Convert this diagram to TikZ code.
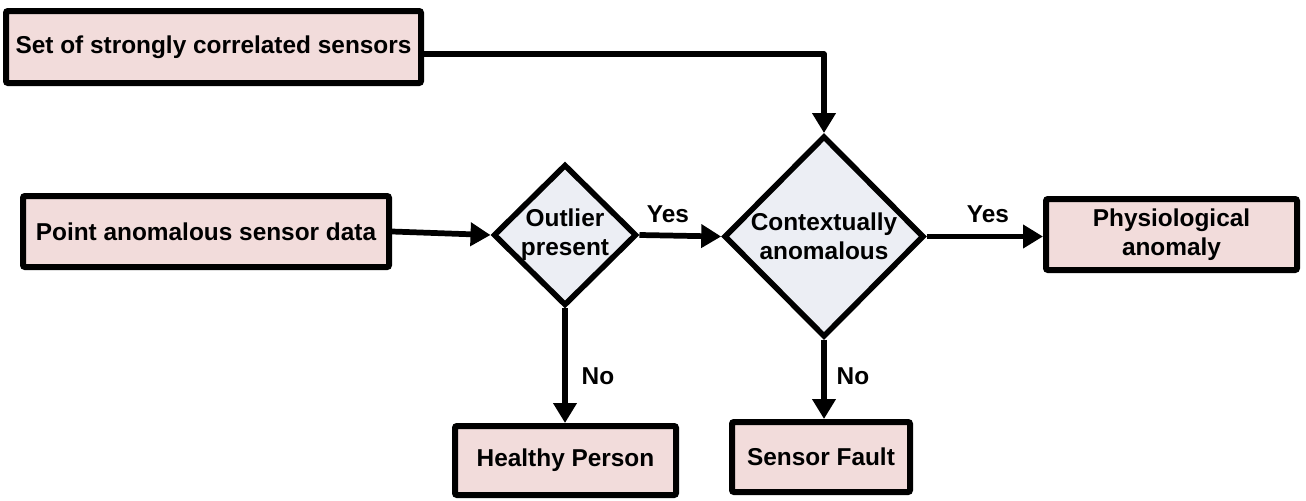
\documentclass[tikz,border=0pt]{standalone}
\usepackage{fontspec}
\setmainfont{Liberation Sans}
\usetikzlibrary{shapes.geometric,arrows.meta}
\definecolor{boxfill}{HTML}{F2DCDB}
\definecolor{decfill}{HTML}{ECEEF4}
\begin{document}
\begin{tikzpicture}[x=0.75pt,y=-0.75pt,
  every node/.style={font=\fontsize{18.3}{22}\selectfont\bfseries},
  stepbox/.style={draw=black, fill=boxfill, line width=4.5pt, rounded corners=1.5pt,
    align=center, inner sep=0pt},
  decision/.style={diamond, draw=black, fill=decfill, line width=4.2pt, inner sep=0pt},
  flow/.style={line width=4.3pt, line join=round, -{Triangle[length=15pt,width=17pt]}},
  tag/.style={inner sep=0pt}
]
\useasboundingbox (0,0) rectangle (1306,500);

% process boxes
\node[stepbox, minimum width=311.25pt, minimum height=54pt] (sets) at (213.5,47)
  {Set of strongly correlated sensors};
\node[stepbox, minimum width=274.5pt, minimum height=53.25pt] (point) at (206,231.5)
  {Point anomalous sensor data};
\node[stepbox, minimum width=188.25pt, minimum height=53.25pt] (phys) at (1171.5,234.5)
  {Physiological\\anomaly};
\node[stepbox, minimum width=165.75pt, minimum height=51.75pt] (healthy) at (565.5,460.5)
  {Healthy Person};
\node[stepbox, minimum width=133.5pt, minimum height=52.5pt] (fault) at (821,457)
  {Sensor Fault};

% decisions
\node[decision, minimum width=107.5pt, minimum height=106pt,
  label={[align=center]center:Outlier\\present}] (out) at (565,235) {};
\node[decision, minimum width=150pt, minimum height=151pt,
  label={[align=center]center:Contextually\\anomalous}] (ctx) at (824,236.5) {};

% connectors
\draw[flow] ([yshift=-5.25pt]sets.east) -| (ctx.north);
\draw[flow] (point.east) -- (out.west);
\draw[flow] (out.east) -- (ctx.west);
\draw[flow] (ctx.east) -- (ctx.east -| phys.west);
\draw[flow] (out.south) -- (out.south |- healthy.north);
\draw[flow] (ctx.south) -- (ctx.south |- fault.north);

% branch labels
\node[tag] (yes1) at (668,214) {Yes};
\node[tag] (yes2) at (988,214) {Yes};
\node[tag] (no1) at (598,376) {No};
\node[tag] (no2) at (853,376) {No};
\end{tikzpicture}
\end{document}
